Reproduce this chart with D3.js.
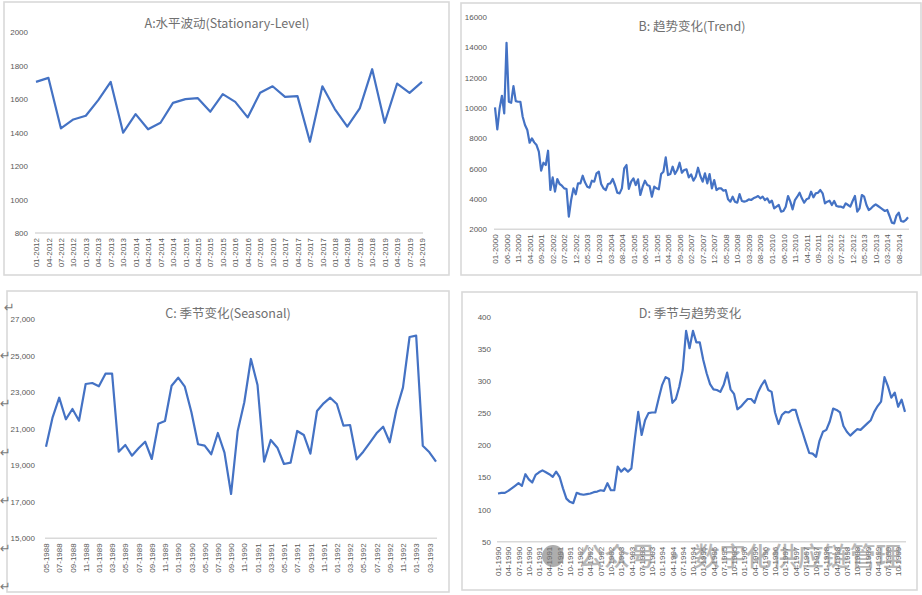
<!DOCTYPE html>
<html>
<head>
<meta charset="utf-8">
<script src="https://cdn.jsdelivr.net/npm/d3@7"></script>
<style>
body { margin: 0; background: #fff; }
</style>
</head>
<body>
<div id="chart"></div>
<script>
// month labels like "01-2012"
function monthSeq(year, month, n, step) {
    const out = [];
    for (let i = 0; i < n; i++) {
        const m = (month - 1) + i * step;
        out.push(String(m % 12 + 1).padStart(2, "0") + "-" + (year + Math.floor(m / 12)));
    }
    return out;
}

// A: quarterly 2012-2019
const levelDates = monthSeq(2012, 1, 32, 3);
const levelValues = [1702,1726,1425,1478,1500,1593,1702,1399,1510,1419,1458,1577,1599,1605,1524,1629,
    1583,1490,1637,1676,1613,1617,1345,1676,1540,1435,1544,1778,1458,1692,1637,1702];
const levelTicks = [800,1000,1200,1400,1600,1800,2000];

// B: monthly 2000-2014
const trendDates = monthSeq(2000, 1, 180, 1);
const trendValues = [10026,8579,9960,10794,9632,14281,10399,10333,11430,10443,
    10400,10400,9412,8864,8535,7702,7987,7724,7548,7110,
    5860,6386,6232,7175,4588,5421,4478,5311,4982,4873,
    4697,4653,2833,3930,4697,4302,5026,5026,5530,5092,
    4807,4741,5202,5136,5684,5794,4982,4697,4588,4982,
    5026,5311,4917,4412,4368,4697,6013,6232,4653,5136,
    5354,4916,5288,4258,4806,5201,4916,4850,4148,4806,
    4696,4631,5639,5793,6736,5574,5639,6122,5639,5902,
    6385,5727,5902,5946,5420,5617,5201,5464,6056,5508,
    5135,5683,5025,5639,4696,5244,4587,4696,4696,4543,
    4587,3973,3819,4148,3819,3753,4324,3863,3819,3863,
    3973,3929,4038,4104,4192,4038,4148,3929,4038,3753,
    3885,3380,3490,3600,3161,3205,3490,4192,3819,3315,
    3929,4148,4411,4038,3753,3972,4038,4477,4104,4367,
    4411,4587,4367,3709,3819,3885,3600,3863,3534,3490,
    3490,3424,3709,3600,3490,3863,4192,3161,3380,4258,
    4148,3600,3271,3380,3534,3644,3534,3424,3315,3205,
    3271,2876,2437,2394,2900,3100,2550,2500,2600,2790];
const trendTicks = [2000,4000,6000,8000,10000,12000,14000,16000];

// C: monthly 05-1988 .. 04-1993
const seasonalDates = monthSeq(1988, 5, 60, 1);
const seasonalValues = [20020,21631,22705,21521,22086,21445,23456,23510,23330,24020,
    24020,19746,20113,19527,19932,20294,19346,21280,21428,23362,
    23801,23308,21905,20151,20074,19603,20770,19691,17428,20880,
    22453,24826,23401,19198,20387,19965,19072,19143,20880,20661,
    19636,21976,22398,22705,22360,21170,21209,19329,19746,20239,
    20754,21116,20261,22031,23253,26031,26102,20074,19713,19198];
const seasonalTicks = [15000,17000,19000,21000,23000,25000,27000];

// D: monthly 1990-1999
const mixedDates = monthSeq(1990, 1, 120, 1);
const mixedValues = [125,126,126,129,133,137,141,137,155,147,
    142,154,158,161,158,155,151,159,151,133,
    117,112,110,126,124,123,124,125,127,128,
    130,129,141,130,130,167,159,164,159,164,
    210,252,216,239,250,251,251,273,294,306,
    303,266,272,291,317,378,351,378,360,360,
    333,312,295,287,286,283,294,313,287,280,
    256,260,266,272,272,266,282,293,301,286,
    283,251,233,247,252,251,255,255,237,221,
    204,188,187,182,207,221,224,237,257,255,
    251,230,221,215,220,225,224,229,234,239,
    252,261,268,306,292,274,282,260,271,252];
const mixedTicks = [50,100,150,200,250,300,350,400];

const panels = [
    {title: "A:水平波动(Stationary-Level)", box: [4, 2, 445, 273], xr: [36, 422], yr: [233, 32],
     ticks: levelTicks, values: levelValues, dates: levelDates, every: 1, tx: 227, ty: 28, pad: 8, fmt: d3.format("d")},
    {title: "B: 趋势变化(Trend)", box: [461, 3, 460, 272], xr: [495, 908], yr: [229.3, 16.7],
     ticks: trendTicks, values: trendValues, dates: trendDates, every: 5, tx: 692, ty: 31, pad: 8, fmt: d3.format("d")},
    {title: "C: 季节变化(Seasonal)", box: [7, 291, 442, 301], xr: [46, 436], yr: [538.3, 319.3],
     ticks: seasonalTicks, values: seasonalValues, dates: seasonalDates, every: 2, tx: 228, ty: 318, pad: 11, fmt: d3.format(",")},
    {title: "D: 季节与趋势变化", box: [462, 292, 455, 298], xr: [498, 905], yr: [541.7, 316.7],
     ticks: mixedTicks, values: mixedValues, dates: mixedDates, every: 3, tx: 690, ty: 318, pad: 7, fmt: d3.format("d")}
];

const svg = d3.select("#chart").append("svg")
    .attr("width", 922).attr("height", 595)
    .style("font-family", "'Liberation Sans', Arial, sans-serif");

panels.forEach(function (p) {
    // frame
    svg.append("rect")
        .attr("x", p.box[0]).attr("y", p.box[1])
        .attr("width", p.box[2]).attr("height", p.box[3])
        .attr("fill", "#fff").attr("stroke", "#d9d9d9").attr("stroke-width", 1.6);

    const x = d3.scaleLinear().domain([0, p.values.length - 1]).range(p.xr);
    const y = d3.scaleLinear().domain(d3.extent(p.ticks)).range(p.yr);

    // x axis
    const xa = svg.append("g")
        .attr("transform", "translate(0," + p.yr[0] + ")")
        .call(d3.axisBottom(x)
            .tickValues(d3.range(0, p.values.length, p.every))
            .tickFormat(function (i) { return p.dates[i]; })
            .tickSize(0).tickSizeOuter(0));
    xa.select(".domain").attr("stroke", "#d9d9d9").attr("stroke-width", 1.6)
        .attr("d", "M" + (p.xr[0] - 1) + ",0H" + (p.xr[1] + 1));
    xa.selectAll("text")
        .attr("transform", "rotate(-90)")
        .attr("text-anchor", "end")
        .attr("x", -5).attr("y", 0).attr("dy", "0.33em")
        .attr("fill", "#595959").style("font-size", "8px");

    // y axis
    const ya = svg.append("g")
        .attr("transform", "translate(" + p.xr[0] + ",0)")
        .call(d3.axisLeft(y).tickValues(p.ticks).tickFormat(p.fmt).tickSize(0).tickPadding(p.pad));
    ya.select(".domain").remove();
    ya.selectAll("text").attr("fill", "#595959").style("font-size", "8px");

    // line
    svg.append("path")
        .datum(p.values)
        .attr("fill", "none")
        .attr("stroke", "#4472c4")
        .attr("stroke-width", 2.2)
        .attr("stroke-linejoin", "round")
        .attr("d", d3.line().x(function (d, i) { return x(i); }).y(function (d) { return y(d); }));

    // title
    svg.append("text")
        .attr("x", p.tx).attr("y", p.ty)
        .attr("text-anchor", "middle")
        .style("font-family", "'Noto Sans CJK SC', sans-serif")
        .style("font-size", "12.5px")
        .attr("fill", "#707070")
        .text(p.title);
});

// stray return marks on the left of panel C
[307, 355, 403, 452, 500, 548, 586].forEach(function (yy, k) {
    svg.append("text")
        .attr("x", k === 0 ? 4 : 0).attr("y", yy + 5)
        .style("font-family", "'DejaVu Sans', sans-serif")
        .style("font-size", "13px")
        .attr("fill", "#7a7a7a")
        .text("↵");
});

// watermark
const wm = svg.append("g").attr("opacity", 0.6);
wm.append("circle").attr("cx", 553).attr("cy", 556).attr("r", 11).attr("fill", "#777");
wm.append("text")
    .attr("x", 578).attr("y", 566)
    .style("font-family", "'Noto Sans CJK SC', sans-serif")
    .style("font-size", "26px")
    .style("font-weight", "500")
    .attr("fill", "#8a8a8a")
    .text("公众号 · 数字化供应链管理");
</script>
</body>
</html>
